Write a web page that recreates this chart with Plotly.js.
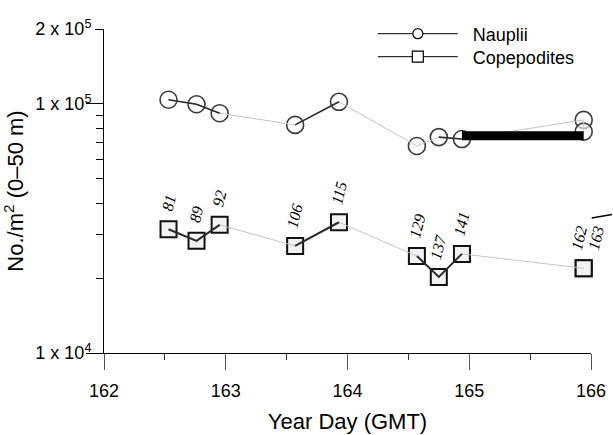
<!DOCTYPE html>
<html>
<head>
<meta charset="utf-8">
<script src="https://cdn.plot.ly/plotly-3.0.1.min.js"></script>
<style>html,body{margin:0;padding:0;background:#fff;}#chart{width:613px;height:435px;}</style>
</head>
<body>
<div id="chart"></div>
<script>
// ---- data ----
const days = [162.53, 162.76, 162.95, 163.57, 163.93, 164.57, 164.75, 164.94, 165.94, 165.94];
const stations = ['81', '89', '92', '106', '115', '129', '137', '141', '162', '163'];
const nauplii = [1.04e5, 9.97e4, 9.18e4, 8.24e4, 1.02e5, 6.78e4, 7.36e4, 7.23e4, 8.63e4, 7.74e4];
const copepodites = [3.14e4, 2.82e4, 3.27e4, 2.69e4, 3.35e4, 2.45e4, 2.02e4, 2.50e4, 2.19e4, 2.19e4];
const naupliiGroups = [[0, 1, 2], [3, 4], [6, 7]];
const copepoditeGroups = [[0, 1, 2], [3, 4], [5, 6, 7]];
const barIdx = [7, 8];
const barLevel = [7.45e4, 7.45e4];
const yTickVals = [1e4, 1e5, 2e5];
const yTickText = ['1 x 10<sup>4</sup>', '1 x 10<sup>5</sup>', '2 x 10<sup>5</sup>'];
const yMinorVals = [2e4, 3e4, 4e4, 5e4, 6e4, 7e4, 8e4, 9e4];
const yLongTicks = [1e4, 1e5];
const xTickVals = [162, 163, 164, 165, 166];
const xMinorVals = [162.5, 163.5, 164.5, 165.5];

function segs(vals, groups) {
  const x = [], y = [];
  groups.forEach(g => { g.forEach(i => { x.push(days[i]); y.push(vals[i]); }); x.push(null); y.push(null); });
  return {x, y};
}
const nSeg = segs(nauplii, naupliiGroups);
const cSeg = segs(copepodites, copepoditeGroups);

const sans = 'Arial, "Liberation Sans", sans-serif';
const serif = '"Liberation Serif", "Times New Roman", serif';

const traces = [
  {x: days, y: nauplii, mode: 'markers', showlegend: false, hoverinfo: 'skip', cliponaxis: false,
   marker: {symbol: 'circle', size: 17, color: 'rgba(255,255,255,0.6)', line: {color: '#3a3a3a', width: 1.6}}},
  {x: days, y: copepodites, mode: 'markers', showlegend: false, hoverinfo: 'skip', cliponaxis: false,
   marker: {symbol: 'square', size: 16, color: '#f2f2f2', line: {color: '#111', width: 2}}},
  {x: days, y: nauplii, mode: 'lines', showlegend: false, line: {color: '#c4c4c4', width: 1}},
  {x: days, y: copepodites, mode: 'lines', showlegend: false, line: {color: '#c4c4c4', width: 1}},
  {x: nSeg.x, y: nSeg.y, mode: 'lines', showlegend: false, line: {color: '#2a2a2a', width: 1.6}},
  {x: cSeg.x, y: cSeg.y, mode: 'lines', showlegend: false, line: {color: '#2a2a2a', width: 2}},
  {x: barIdx.map(i => days[i]), y: barLevel, mode: 'lines', showlegend: false, line: {color: '#000', width: 9}},
  {x: [null], y: [null], name: '\u00a0\u00a0Nauplii', mode: 'lines+markers', legend: 'legend',
   line: {color: '#000', width: 1}, marker: {symbol: 'circle', size: 10, color: '#fff', line: {color: '#000', width: 1.2}}},
  {x: [null], y: [null], name: '\u00a0\u00a0Copepodites', mode: 'lines+markers', legend: 'legend2',
   line: {color: '#000', width: 1}, marker: {symbol: 'square', size: 11, color: '#fff', line: {color: '#000', width: 1.2}}},
  {x: [null], y: [null], yaxis: 'y2', showlegend: false, mode: 'markers'}
];

const annotations = stations.map((s, i) => ({
  x: days[i], y: Math.log10(copepodites[i]), xref: 'x', yref: 'y',
  text: '<i>' + s + '</i>', showarrow: false, textangle: -76,
  xshift: s === '162' ? -5 : (s === '163' ? 12 : 0),
  yshift: s.length === 2 ? 26 : 30,
  font: {family: serif, size: 16, color: '#000'}
}));

const legendCommon = {xanchor: 'left', yanchor: 'middle', itemwidth: 80,
  font: {family: sans, size: 18, color: '#000'}, bgcolor: 'rgba(0,0,0,0)'};

const layout = {
  width: 613, height: 435,
  margin: {l: 104, r: 22, t: 29, b: 82},
  paper_bgcolor: '#fff', plot_bgcolor: '#fff',
  font: {family: sans, color: '#000'},
  showlegend: true,
  legend: Object.assign({x: 0.552, y: 0.9846}, legendCommon),
  legend2: Object.assign({x: 0.552, y: 0.9136}, legendCommon),
  xaxis: {
    range: [162, 166], tickmode: 'array', tickvals: xTickVals, ticks: 'outside', ticklen: 16, tickwidth: 1, tickcolor: '#555',
    minor: {tickmode: 'array', tickvals: xMinorVals, ticks: 'outside', ticklen: 6, tickcolor: '#333', showgrid: false},
    showline: true, linecolor: '#000', linewidth: 1, showgrid: false, zeroline: false,
    tickfont: {family: sans, size: 18}, ticklabelstandoff: 5,
    title: {text: 'Year Day (GMT)', font: {family: sans, size: 22}, standoff: 14}
  },
  yaxis: {
    type: 'log', range: [4, Math.log10(2e5)], tickmode: 'array', tickvals: yTickVals, ticktext: yTickText,
    ticks: 'outside', ticklen: 8, tickwidth: 1, tickcolor: '#000',
    minor: {tickmode: 'array', tickvals: yMinorVals, ticks: 'outside', ticklen: 7, tickcolor: '#000', showgrid: false},
    showline: true, linecolor: '#000', linewidth: 1, showgrid: false, zeroline: false,
    tickfont: {family: sans, size: 18},
    title: {text: 'No./m<sup>2</sup> (0–50 m)', font: {family: sans, size: 22}, standoff: 6}
  },
  yaxis2: {
    type: 'log', range: [4, Math.log10(2e5)], overlaying: 'y', side: 'left', tickmode: 'array', tickvals: yLongTicks,
    ticks: 'outside', ticklen: 17, tickcolor: '#000', showticklabels: false, showline: false, showgrid: false, zeroline: false
  },
  annotations: annotations,
  shapes: [{type: 'line', xref: 'paper', yref: 'paper', x0: 1.0014, y0: 0.4167, x1: 1.043, y1: 0.4275,
            line: {color: '#000', width: 1.5}}]
};

Plotly.newPlot('chart', traces, layout, {displayModeBar: false, staticPlot: true});
</script>
</body>
</html>
